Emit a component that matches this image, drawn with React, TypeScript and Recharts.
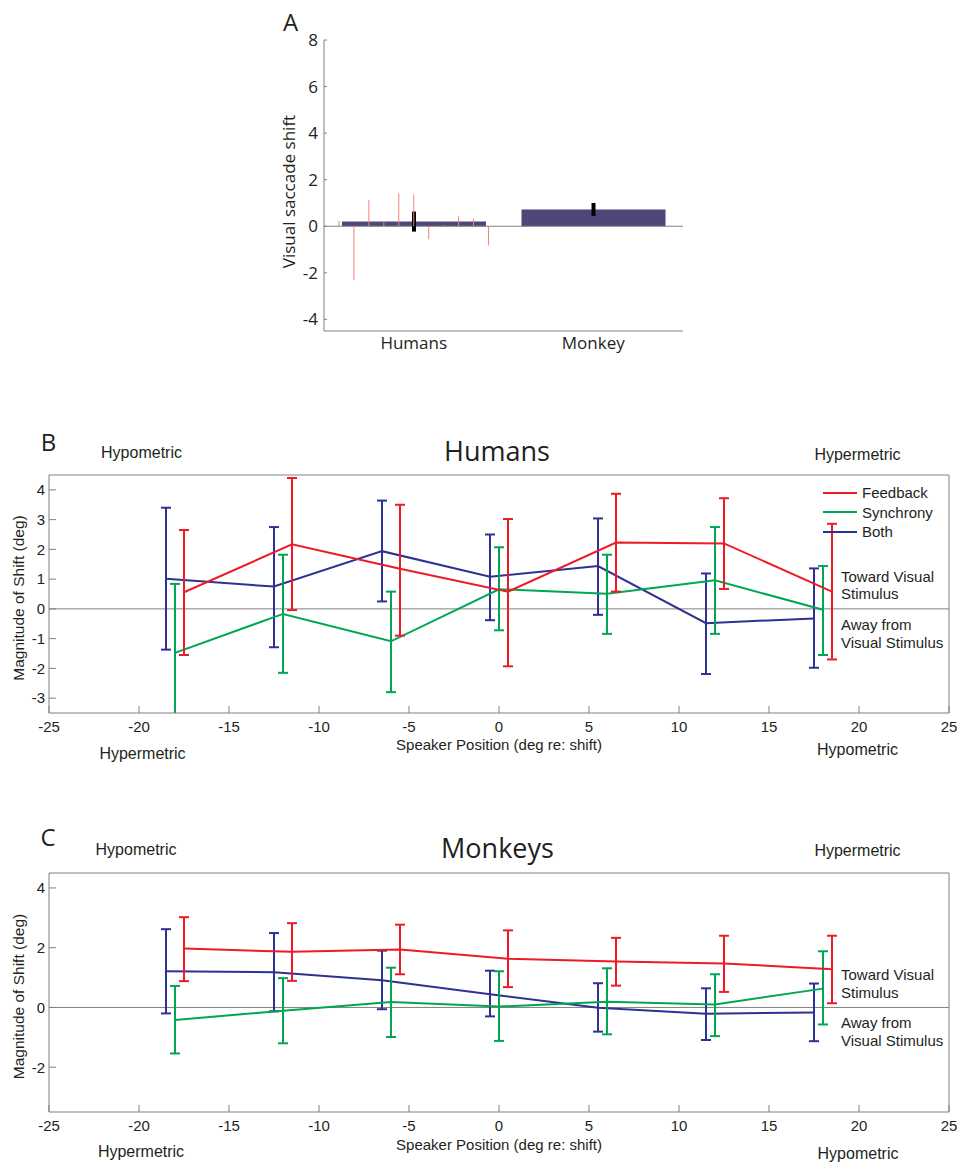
import React from 'react';
import { ComposedChart, Bar, Line, XAxis, YAxis, ErrorBar, ReferenceLine, Legend } from 'recharts';

// panel A: group means with SEM, plus single human subjects
const groups = ['Humans', 'Monkey'];
const groupMeans = [0.2, 0.72];
const groupSems = [0.43, 0.28];
const humanSubjects = [0.23, -2.31, 1.12, 0.17, 1.41, 1.36, -0.56, 0.05, 0.43, 0.33, -0.82];

// panels B and C
const speakerPos = [-18, -12, -6, 0, 6, 12, 18];
const xTicks = [-25, -20, -15, -10, -5, 0, 5, 10, 15, 20, 25];
const seriesNames = ['Feedback', 'Synchrony', 'Both'];
const seriesColors = ['#ED1C24', '#00A651', '#2E3192'];
const seriesDodge = [0.5, 0, -0.5];

const humansFeedback = [0.56, 2.17, 1.35, 0.58, 2.23, 2.2, 0.58];
const humansFeedbackLo = [-1.55, -0.04, -0.9, -1.93, 0.58, 0.67, -1.7];
const humansFeedbackHi = [2.65, 4.4, 3.5, 3.02, 3.87, 3.72, 2.86];
const humansSynchrony = [-1.48, -0.17, -1.09, 0.66, 0.51, 0.96, -0.03];
const humansSynchronyLo = [-3.8, -2.15, -2.8, -0.72, -0.84, -0.84, -1.55];
const humansSynchronyHi = [0.84, 1.82, 0.58, 2.07, 1.82, 2.75, 1.44];
const humansBoth = [1.01, 0.75, 1.94, 1.08, 1.44, -0.48, -0.32];
const humansBothLo = [-1.37, -1.29, 0.25, -0.38, -0.2, -2.19, -1.98];
const humansBothHi = [3.4, 2.75, 3.64, 2.5, 3.04, 1.19, 1.36];

const monkeysFeedback = [1.97, 1.86, 1.94, 1.63, 1.54, 1.47, 1.28];
const monkeysFeedbackLo = [0.88, 0.89, 1.11, 0.68, 0.73, 0.52, 0.14];
const monkeysFeedbackHi = [3.02, 2.82, 2.77, 2.58, 2.33, 2.4, 2.4];
const monkeysSynchrony = [-0.42, -0.11, 0.18, 0.03, 0.19, 0.1, 0.63];
const monkeysSynchronyLo = [-1.54, -1.2, -0.99, -1.12, -0.9, -0.96, -0.57];
const monkeysSynchronyHi = [0.72, 0.98, 1.33, 1.21, 1.31, 1.11, 1.88];
const monkeysBoth = [1.21, 1.18, 0.91, 0.44, -0.01, -0.21, -0.17];
const monkeysBothLo = [-0.2, -0.13, -0.06, -0.3, -0.81, -1.09, -1.13];
const monkeysBothHi = [2.62, 2.49, 1.9, 1.23, 0.81, 0.64, 0.8];

const ARIAL = '"Liberation Sans", Arial, sans-serif';
const MYRIAD = '"Open Sans", "Liberation Sans", sans-serif';
const INK = '#231f20';
const AXIS = '#808080';

const rows = (mean: number[], lo: number[], hi: number[], dodge: number) =>
  speakerPos.map((p, i) => ({ x: p + dodge, y: mean[i], err: [mean[i] - lo[i], hi[i] - mean[i]] }));

const humansSeries = [
  rows(humansFeedback, humansFeedbackLo, humansFeedbackHi, seriesDodge[0]),
  rows(humansSynchrony, humansSynchronyLo, humansSynchronyHi, seriesDodge[1]),
  rows(humansBoth, humansBothLo, humansBothHi, seriesDodge[2]),
];
const monkeysSeries = [
  rows(monkeysFeedback, monkeysFeedbackLo, monkeysFeedbackHi, seriesDodge[0]),
  rows(monkeysSynchrony, monkeysSynchronyLo, monkeysSynchronyHi, seriesDodge[1]),
  rows(monkeysBoth, monkeysBothLo, monkeysBothHi, seriesDodge[2]),
];

const Note = ({ x, y, size, font = ARIAL, children }: any) => (
  <div
    style={{
      position: 'absolute', left: x, top: y, transform: 'translate(-50%, -50%)',
      fontSize: size, fontFamily: font, lineHeight: 1, whiteSpace: 'nowrap', color: INK,
    }}
  >
    {children}
  </div>
);

const TwoLines = ({ x, y, lines }: any) => (
  <div
    style={{
      position: 'absolute', left: x, top: y, fontSize: 15, fontFamily: ARIAL,
      lineHeight: '17.5px', whiteSpace: 'nowrap', color: INK,
    }}
  >
    {lines.map((l: string) => <div key={l}>{l}</div>)}
  </div>
);

const renderLegend = () => (
  <div style={{ fontFamily: ARIAL, fontSize: 15, color: INK }}>
    {seriesNames.map((n, i) => (
      <div key={n} style={{ display: 'flex', alignItems: 'center', height: 19.5 }}>
        <svg width={34} height={4}>
          <line x1={0} x2={34} y1={2} y2={2} stroke={seriesColors[i]} strokeWidth={2} />
        </svg>
        <span style={{ marginLeft: 5 }}>{n}</span>
      </div>
    ))}
  </div>
);

const PanelA = () => {
  const data = groups.map((g, i) => ({ x: i * 2 + 1, mean: groupMeans[i], sem: groupSems[i] }));
  return (
    <div style={{ position: 'absolute', left: 0, top: 0 }}>
      <ComposedChart width={957} height={360} data={data} margin={{ top: 40, right: 274, bottom: 4, left: 253 }}>
        <XAxis
          dataKey="x" type="number" domain={[0, 4]} ticks={[1, 3]}
          tickFormatter={(v: number) => groups[(v - 1) / 2]}
          tickLine={false} tickSize={0} tickMargin={6} height={25}
          axisLine={{ stroke: AXIS }}
          tick={{ fontSize: 17, fontFamily: MYRIAD, fill: INK }}
        />
        <YAxis
          type="number" domain={[-4.5, 8]} ticks={[-4, -2, 0, 2, 4, 6, 8]} width={71}
          tickSize={-3} tickMargin={9} axisLine={{ stroke: AXIS }} tickLine={{ stroke: AXIS }}
          tick={{ fontSize: 17, fontFamily: MYRIAD, fill: INK }}
          label={{ value: 'Visual saccade shift', angle: -90, position: 'center', dy: 6, fontSize: 17, fontFamily: MYRIAD, fill: INK }}
        />
        <ReferenceLine y={0} stroke={AXIS} strokeWidth={1.2} />
        <Bar dataKey="mean" fill="#4d4878" barSize={144} isAnimationActive={false}>
          <ErrorBar dataKey="sem" direction="y" width={0} stroke="#000" strokeWidth={4} />
        </Bar>
        {humanSubjects.map((v, i) => (
          <ReferenceLine
            key={i}
            segment={[{ x: (i + 1) / 6, y: 0 }, { x: (i + 1) / 6, y: v }]}
            stroke="#f27f7f" strokeWidth={1}
          />
        ))}
      </ComposedChart>
    </div>
  );
};

const ShiftPanel = ({ id, top, height, marginTop, marginBottom, yTicks, series, legend, labelOffset }: any) => {
  const order = [2, 1, 0];
  const plotTop = marginTop + 1;
  const plotHeight = height - plotTop - marginBottom - 40;
  return (
    <div style={{ position: 'absolute', left: 0, top }}>
      {/* clip region for error bars that run past the y range */}
      <svg width={0} height={0} style={{ position: 'absolute' }}>
        <defs>
          <clipPath id={`${id}-plot`}>
            <rect x={40} y={plotTop} width={910} height={plotHeight} />
          </clipPath>
        </defs>
      </svg>
      <ComposedChart width={957} height={height} margin={{ top: marginTop, right: 7, bottom: marginBottom, left: 0 }}>
        <XAxis
          dataKey="x" type="number" domain={[-25, 25]} ticks={xTicks} height={40}
          tickSize={-7} tickMargin={15} axisLine={{ stroke: AXIS }} tickLine={{ stroke: AXIS }}
          tick={{ fontSize: 15, fontFamily: ARIAL, fill: INK }}
          label={{ value: 'Speaker Position (deg re: shift)', position: 'insideBottom', offset: labelOffset, fontSize: 15, fontFamily: ARIAL, fill: INK }}
        />
        <XAxis
          xAxisId="top" orientation="top" type="number" domain={[-25, 25]} ticks={xTicks} height={1}
          tick={false} tickSize={-7} axisLine={{ stroke: AXIS }} tickLine={{ stroke: AXIS }}
        />
        <YAxis
          type="number" domain={[-3.5, 4.5]} ticks={yTicks} width={49} allowDataOverflow
          tickSize={-7} tickMargin={11} axisLine={{ stroke: AXIS }} tickLine={{ stroke: AXIS }}
          tick={{ fontSize: 15, fontFamily: ARIAL, fill: INK }}
          label={{ value: 'Magnitude of Shift (deg)', angle: -90, position: 'center', dx: -6.5, dy: 4, fontSize: 15.5, fontFamily: ARIAL, fill: INK }}
        />
        <YAxis
          yAxisId="right" orientation="right" type="number" domain={[-3.5, 4.5]} ticks={yTicks} width={1}
          tick={false} tickSize={-7} axisLine={{ stroke: AXIS }} tickLine={{ stroke: AXIS }}
        />
        <ReferenceLine y={0} stroke={AXIS} strokeWidth={1} />
        {order.map((i) => (
          <Line
            key={seriesNames[i]}
            data={series[i]}
            dataKey="y"
            name={seriesNames[i]}
            stroke={seriesColors[i]}
            strokeWidth={2}
            dot={false}
            activeDot={false}
            type="linear"
            isAnimationActive={false}
          >
            <ErrorBar
              dataKey="err" direction="y" width={5} stroke={seriesColors[i]} strokeWidth={2}
              clipPath={`url(#${id}-plot)`}
            />
          </Line>
        ))}
        {legend && (
          <Legend
            layout="vertical" align="center" verticalAlign="middle" content={renderLegend}
            wrapperStyle={{ left: 823, top: 63, width: 'auto', height: 'auto' }}
          />
        )}
      </ComposedChart>
    </div>
  );
};

export default function App() {
  return (
    <div style={{ position: 'absolute', left: 0, top: 0, width: 957, height: 1164, overflow: 'hidden', background: '#fff' }}>
      <PanelA />
      <Note x={290.5} y={21.5} size={24} font={MYRIAD}>A</Note>

      <ShiftPanel
        id="humans" top={420} height={360} marginTop={54} marginBottom={27}
        yTicks={[-3, -2, -1, 0, 1, 2, 3, 4]} series={humansSeries} legend labelOffset={3}
      />
      <Note x={48.5} y={441.5} size={24} font={MYRIAD}>B</Note>
      <Note x={497} y={449.5} size={27} font={MYRIAD}>Humans</Note>
      <Note x={141.5} y={453} size={16}>Hypometric</Note>
      <Note x={857.5} y={455} size={16}>Hypermetric</Note>
      <Note x={142.5} y={753.5} size={16}>Hypermetric</Note>
      <Note x={857.5} y={749.5} size={16}>Hypometric</Note>
      <TwoLines x={841} y={567.75} lines={['Toward Visual', 'Stimulus']} />
      <TwoLines x={841} y={616.25} lines={['Away from', 'Visual Stimulus']} />

      <ShiftPanel
        id="monkeys" top={820} height={344} marginTop={52} marginBottom={12}
        yTicks={[-2, 0, 2, 4]} series={monkeysSeries} legend={false} labelOffset={2}
      />
      <Note x={48} y={836.5} size={24} font={MYRIAD}>C</Note>
      <Note x={497.5} y={847} size={27} font={MYRIAD}>Monkeys</Note>
      <Note x={136} y={849.5} size={16}>Hypometric</Note>
      <Note x={857.5} y={850.5} size={16}>Hypermetric</Note>
      <Note x={141} y={1151.5} size={16}>Hypermetric</Note>
      <Note x={858} y={1153.5} size={16}>Hypometric</Note>
      <TwoLines x={841} y={966.25} lines={['Toward Visual', 'Stimulus']} />
      <TwoLines x={841} y={1014} lines={['Away from', 'Visual Stimulus']} />
    </div>
  );
}
